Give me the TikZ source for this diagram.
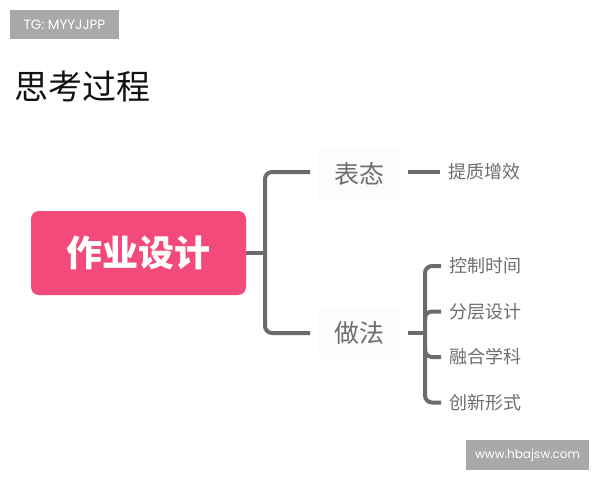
\documentclass[tikz,border=0pt]{standalone}
\usepackage{fontspec}
\setmainfont{Poppins}
\newfontfamily\cjk{Noto Sans CJK SC}
\usetikzlibrary{calc}
\definecolor{pinkbox}{HTML}{F34A7B}
\definecolor{linegray}{HTML}{6B6B6D}
\definecolor{txtgray}{HTML}{6E6E6E}
\definecolor{wmgray}{HTML}{A9A9A9}
\definecolor{faint}{HTML}{FCFCFD}
\tikzset{
  conn/.style={draw=linegray, line width=4pt, rounded corners=7pt},
  midbox/.style={fill=faint, minimum width=82pt, minimum height=52pt, inner sep=0pt, outer sep=8pt,
    font=\cjk\fontsize{25}{25}\selectfont, text=txtgray},
  leaf/.style={anchor=west, inner xsep=8pt, inner ysep=2pt, outer sep=0pt,
    font=\cjk\fontsize{18}{18}\selectfont, text=txtgray},
  wm/.style={fill=wmgray, text=white, inner sep=0pt}
}
\begin{document}
\begin{tikzpicture}[x=1pt,y=-1pt]
\useasboundingbox (0,0) rectangle (600,480);
\fill[white] (0,0) rectangle (600,480);
% watermark labels
\node[wm, minimum width=109pt, minimum height=29pt, font=\fontsize{13.5}{13.5}\selectfont] (tg) at (64.5,24.5) {TG: MYYJJPP};
\node[wm, minimum width=123pt, minimum height=30pt, font=\fontsize{12}{12}\selectfont] (www) at (527.5,455) {www.hbajsw.com};
% title
\node[anchor=west, inner sep=0pt, font=\cjk\fontsize{34}{34}\selectfont, text=black!93] (title) at (14,87) {思考过程};
% root
\node[fill=pinkbox, rounded corners=8pt, minimum width=215pt, minimum height=84pt, inner sep=0pt,
  text=white, font=\cjk\bfseries\fontsize{36}{36}\selectfont] (root) at (138.5,253) {作业设计};
% middle
\node[midbox] (bt) at (359,174) {表态};
\node[midbox] (zf) at (359,333) {做法};
% leaves
\node[leaf] (l0) at (440,172) {提质增效};
\node[leaf] (l1) at (441,266) {控制时间};
\node[leaf] (l2) at (441,311.5) {分层设计};
\node[leaf] (l3) at (441,357) {融合学科};
\node[leaf] (l4) at (441,402.5) {创新形式};
% connectors
\coordinate (j1) at (265,253);
\draw[conn] (root.east |- j1) -- (j1);
\draw[conn] (bt.west |- 0,172) -| (j1) |- (zf.west);
\draw[conn] (bt.east |- 0,172) -- (l0.west);
\coordinate (j2) at (425,333);
\draw[conn] (zf.east) -- (j2);
\draw[conn] (l1.west) -| (j2) |- (l4.west);
\draw[conn] (l2.west) -| ($(j2)+(0,-13)$);
\draw[conn] (l3.west) -| ($(j2)+(0,13)$);
\end{tikzpicture}
\end{document}
